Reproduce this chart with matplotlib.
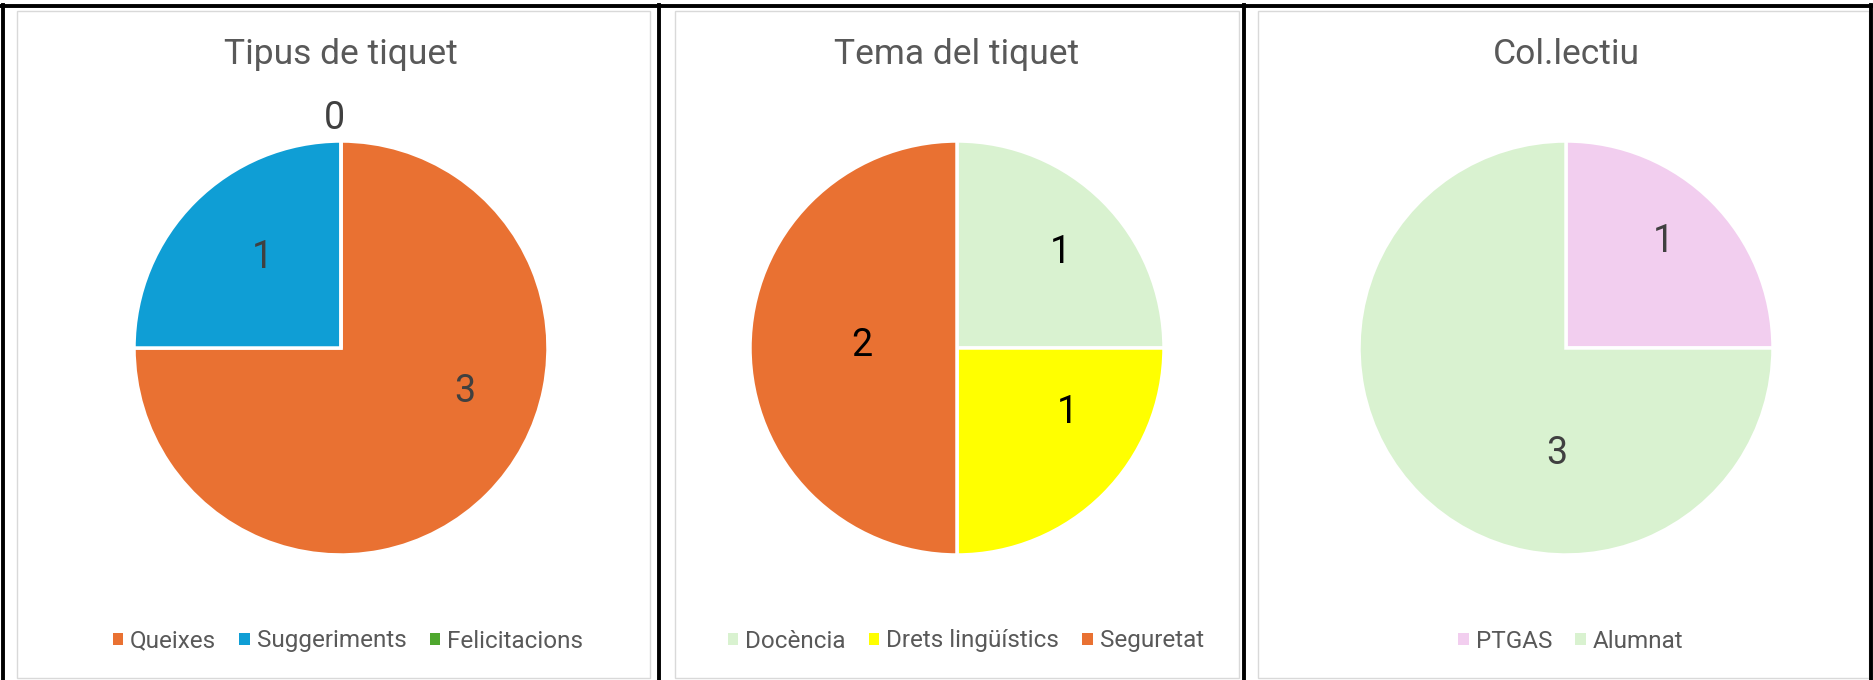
import numpy as np
import matplotlib
matplotlib.use("Agg")
import matplotlib.pyplot as plt
from matplotlib.patches import Rectangle, Patch
from matplotlib.lines import Line2D

plt.rcParams['font.family'] = ['Roboto', 'DejaVu Sans']

# ---------------- data ----------------
titles = ["Tipus de tiquet", "Tema del tiquet", "Col.lectiu"]

cats_tipus = ["Queixes", "Suggeriments", "Felicitacions"]
vals_tipus = [3, 1, 0]

cats_tema = ["Docència", "Drets lingüístics", "Seguretat"]
vals_tema = [1, 1, 2]

cats_col = ["PTGAS", "Alumnat"]
vals_col = [1, 3]

# ---------------- styles ----------------
colors_tipus = ["#E97132", "#0F9ED5", "#4EA72E"]
colors_tema = ["#D9F2D0", "#FFFF00", "#E97132"]
colors_col = ["#F2CEEF", "#D9F2D0"]

# label placement (polar angle in degrees, radius as fraction of pie radius)
lab_tipus = [(-18, 0.63), (130, 0.59), (91.5, 1.125)]
lab_tema = [(43.6, 0.69), (-29, 0.61), (177, 0.46)]
lab_col = [(48.3, 0.71), (265, 0.50)]

label_colors = ["#404040", "#000000", "#404040"]

W, H = 1874, 680
fig = plt.figure(figsize=(W / 100, H / 100), dpi=100)
fig.patch.set_facecolor("white")

def fx(x):
    return x / W

def fy(y):
    return (H - y) / H

# panel frames (gray)
panels = [(17, 650), (675, 1239), (1258, 1869)]
for x0, x1 in panels:
    fig.add_artist(Rectangle((fx(x0), fy(678)), fx(x1) - fx(x0), fy(11) - fy(678),
                             transform=fig.transFigure, facecolor="none",
                             edgecolor="#D9D9D9", linewidth=1.0))

# black outer lines
for x in [3, 659, 1244, 1871]:
    fig.add_artist(Line2D([fx(x), fx(x)], [fy(5), fy(680)], transform=fig.transFigure,
                          color="black", linewidth=2.8))
fig.add_artist(Line2D([0, 1], [fy(6), fy(6)], transform=fig.transFigure,
                      color="black", linewidth=2.8))

R = 207
centers = [(341, 348), (957, 348), (1566, 348)]
legend_cx = [348, 966, 1571]

datasets = [
    (cats_tipus, vals_tipus, colors_tipus, lab_tipus),
    (cats_tema, vals_tema, colors_tema, lab_tema),
    (cats_col, vals_col, colors_col, lab_col),
]

for i, (cats, vals, cols, labs) in enumerate(datasets):
    cx, cy = centers[i]
    ax = fig.add_axes([fx(cx - R), fy(cy + R), 2 * R / W, 2 * R / H])
    ax.pie(vals, colors=cols, startangle=90, counterclock=False, radius=1,
           wedgeprops=dict(edgecolor="white", linewidth=2.5))
    ax.set_xlim(-1, 1)
    ax.set_ylim(-1, 1)
    ax.axis("off")
    for v, (ang, rr) in zip(vals, labs):
        a = np.deg2rad(ang)
        ax.annotate(str(v), xy=(rr * np.cos(a), rr * np.sin(a)), xytext=(0, -9.6),
                    textcoords="offset points", ha="center", va="baseline",
                    fontsize=27, color=label_colors[i], annotation_clip=False)

    fig.text(fx(cx), fy(64), titles[i], ha="center", va="baseline",
             fontsize=25.5, color="#595959")

    handles = [Patch(facecolor=c, edgecolor="none") for c in cols]
    fig.legend(handles, cats, loc="center", bbox_to_anchor=(fx(legend_cx[i]), fy(641)),
               ncol=len(cats), frameon=False, fontsize=17.5,
               handlelength=0.42, handleheight=0.42, handletextpad=0.3,
               columnspacing=0.95, labelcolor="#595959")

fig.savefig("out.png", dpi=100)
